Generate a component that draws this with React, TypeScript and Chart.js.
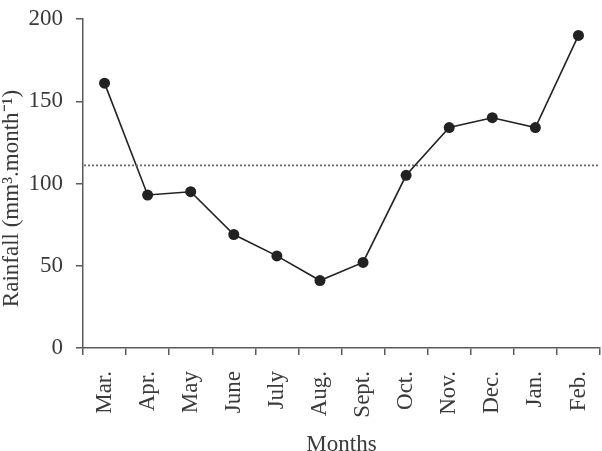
import React, { useEffect, useRef } from "react";
import { Chart, registerables } from "chart.js";

Chart.register(...registerables);

const months = ["Mar.", "Apr.", "May", "June", "July", "Aug.", "Sept.", "Oct.", "Nov.", "Dec.", "Jan.", "Feb."];
const rainfall = [161, 93, 95, 69, 56, 41, 52, 105, 134, 140, 134, 190];
const meanRainfall = [111];
const yTicks = [0, 50, 100, 150, 200];
const yTitle = "Rainfall (mm³.month⁻¹)";

const FONT = "'Liberation Serif', 'Times New Roman', serif";
const AXIS = "#5a5a5a";
const TEXT = "#3a3a3a";
const CANVAS_H = 459;

const meanLinePlugin = {
  id: "meanLine",
  afterDatasetsDraw(chart: any) {
    const { ctx, chartArea, scales } = chart;
    const y = scales.y.getPixelForValue(meanRainfall[0]);
    ctx.save();
    ctx.strokeStyle = "#6a6a6a";
    ctx.lineWidth = 1.8;
    ctx.setLineDash([2, 2]);
    ctx.beginPath();
    ctx.moveTo(chartArea.left + 1, y);
    ctx.lineTo(chartArea.right, y);
    ctx.stroke();
    ctx.restore();
  },
};

const yTitlePlugin = {
  id: "yTitle",
  afterDraw(chart: any) {
    const { ctx, chartArea } = chart;
    ctx.save();
    ctx.translate(12, (chartArea.top + chartArea.bottom) / 2 + 15);
    ctx.rotate(-Math.PI / 2);
    ctx.font = `23px ${FONT}`;
    ctx.fillStyle = TEXT;
    ctx.textAlign = "center";
    ctx.textBaseline = "middle";
    ctx.fillText(yTitle, 0, 0);
    ctx.restore();
  },
};

export default function App() {
  const ref = useRef<HTMLCanvasElement>(null);
  useEffect(() => {
    if (!ref.current) return;
    const chart = new Chart(ref.current, {
      type: "line",
      data: {
        labels: months,
        datasets: [
          {
            data: rainfall,
            borderColor: "#222",
            borderWidth: 1.6,
            pointRadius: 5.5,
            pointBackgroundColor: "#222",
            pointBorderWidth: 0,
            tension: 0,
          },
        ],
      },
      options: {
        animation: false,
        responsive: false,
        devicePixelRatio: 1,
        layout: { autoPadding: false, padding: { top: 19, right: 2, left: 0, bottom: 0 } },
        plugins: { legend: { display: false }, tooltip: { enabled: false } },
        scales: {
          x: {
            type: "category",
            offset: true,
            grid: {
              offset: true,
              drawOnChartArea: false,
              drawTicks: true,
              tickLength: 7,
              color: AXIS,
              lineWidth: 1.5,
            },
            border: { color: AXIS, width: 1.5 },
            ticks: {
              minRotation: 90,
              maxRotation: 90,
              autoSkip: false,
              padding: 16,
              color: TEXT,
              font: { family: FONT, size: 23 },
            },
            title: {
              display: true,
              text: "Months",
              color: TEXT,
              padding: 0,
              font: { family: FONT, size: 23 },
            },
            afterFit: (scale: any) => {
              scale.height = CANVAS_H - 348;
              scale.paddingLeft = 0;
              scale.paddingRight = 0;
            },
          },
          y: {
            min: 0,
            max: 200,
            afterBuildTicks: (scale: any) => {
              scale.ticks = yTicks.map((v) => ({ value: v }));
            },
            grid: {
              drawOnChartArea: false,
              drawTicks: true,
              tickLength: 7,
              color: AXIS,
              lineWidth: 1.5,
            },
            border: { color: AXIS, width: 1.5 },
            ticks: {
              padding: 13,
              color: TEXT,
              font: { family: FONT, size: 23 },
            },
            title: { display: false },
            afterFit: (scale: any) => {
              scale.width = 83;
              scale.paddingTop = 0;
              scale.paddingBottom = 0;
            },
          },
        },
      },
      plugins: [meanLinePlugin, yTitlePlugin],
    });
    return () => chart.destroy();
  }, []);
  return (
    <div style={{ position: "absolute", left: 0, top: 0, width: 602, height: 451, overflow: "hidden", background: "#fff" }}>
      <canvas ref={ref} width={602} height={CANVAS_H} />
    </div>
  );
}
